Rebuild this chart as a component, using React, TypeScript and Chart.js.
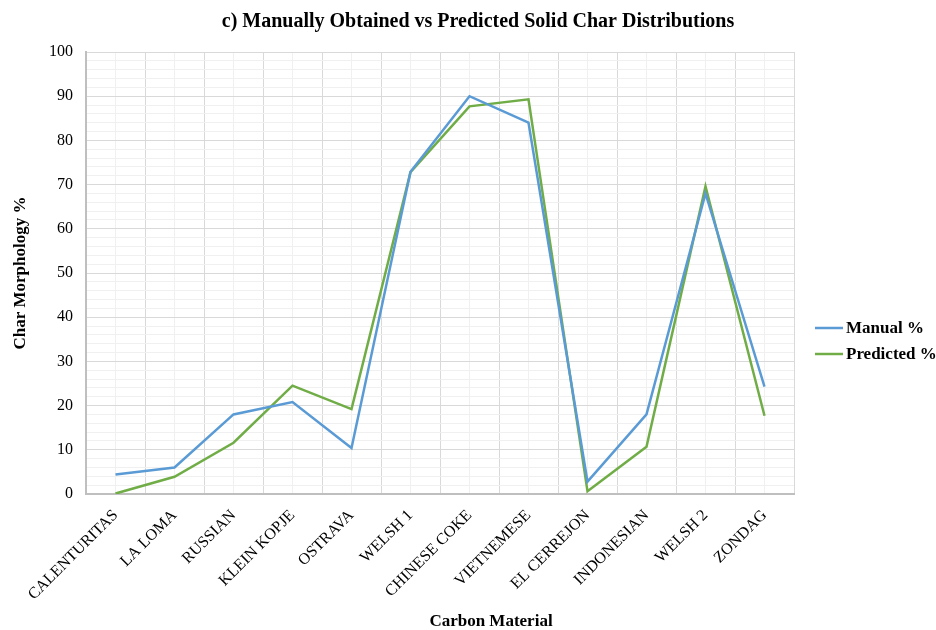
import React, { useEffect, useRef } from "react";
import { Chart, registerables } from "chart.js";

Chart.register(...registerables);

const categories: string[] = [
  "CALENTURITAS",
  "LA LOMA",
  "RUSSIAN",
  "KLEIN KOPJE",
  "OSTRAVA",
  "WELSH 1",
  "CHINESE COKE",
  "VIETNEMESE",
  "EL CERREJON",
  "INDONESIAN",
  "WELSH 2",
  "ZONDAG",
];

const manualValues: number[] = [4.4, 6.0, 18.0, 20.8, 10.4, 72.9, 90.0, 84.0, 2.8, 18.0, 68.0, 24.3];
const predictedValues: number[] = [0.1, 3.9, 11.6, 24.5, 19.2, 72.8, 87.7, 89.3, 0.6, 10.7, 69.6, 17.7];

const seriesLabels: string[] = ["Manual %", "Predicted %"];
const seriesColors: string[] = ["#5B9BD5", "#70AD47"];

const chartTitle = "c) Manually Obtained vs Predicted Solid Char Distributions";
const xTitle = "Carbon Material";
const yTitle = "Char Morphology %";

const FONT = "'Liberation Serif', 'Times New Roman', serif";

const overlayPlugin = {
  id: "overlayText",
  afterDraw(chart: any) {
    const ctx = chart.ctx;
    ctx.save();
    ctx.fillStyle = "#000";
    // Title
    ctx.font = `bold 20px ${FONT}`;
    ctx.textAlign = "center";
    ctx.textBaseline = "middle";
    ctx.fillText(chartTitle, 478, 22);
    // X axis title
    ctx.font = `bold 17px ${FONT}`;
    ctx.fillText(xTitle, 491, 622);
    // Legend
    const items = chart.data.datasets;
    const ys = [328, 354];
    items.forEach((ds: any, i: number) => {
      const y = ys[i];
      ctx.strokeStyle = ds.borderColor;
      ctx.lineWidth = 2.5;
      ctx.beginPath();
      ctx.moveTo(815, y);
      ctx.lineTo(843, y);
      ctx.stroke();
      ctx.fillStyle = "#000";
      ctx.textAlign = "left";
      ctx.textBaseline = "middle";
      ctx.font = `bold 17px ${FONT}`;
      ctx.fillText(ds.label, 846, y + 1);
    });
    ctx.restore();
  },
};

export default function App() {
  const canvasRef = useRef<HTMLCanvasElement | null>(null);

  useEffect(() => {
    if (!canvasRef.current) return;
    const chart = new Chart(canvasRef.current, {
      type: "line",
      data: {
        labels: categories,
        datasets: [
          {
            label: seriesLabels[0],
            data: manualValues,
            borderColor: seriesColors[0],
            backgroundColor: seriesColors[0],
            borderWidth: 2.5,
            pointRadius: 0,
            tension: 0,
          },
          {
            label: seriesLabels[1],
            data: predictedValues,
            borderColor: seriesColors[1],
            backgroundColor: seriesColors[1],
            borderWidth: 2.5,
            pointRadius: 0,
            tension: 0,
          },
        ],
      },
      options: {
        responsive: false,
        animation: false,
        layout: { padding: { left: 8, right: 142, top: 52, bottom: 0 } },
        plugins: {
          legend: { display: false },
          title: { display: false },
          tooltip: { enabled: false },
        },
        scales: {
          x: {
            type: "category",
            offset: true,
            grid: {
              offset: true,
              color: "#D9D9D9",
              lineWidth: 1,
              drawTicks: false,
            },
            border: { color: "#BFBFBF", width: 2 },
            ticks: {
              autoSkip: false,
              maxRotation: 45,
              minRotation: 45,
              padding: 12,
              color: "#000",
              font: { family: FONT, size: 16 },
            },
            afterFit: (scale: any) => {
              scale.height = 136;
            },
          },
          x2: {
            type: "category",
            labels: categories,
            position: "top",
            offset: true,
            grid: {
              offset: false,
              color: "#F0F0F0",
              lineWidth: 1,
              drawTicks: false,
            },
            border: { display: false },
            ticks: { display: false },
          },
          y: {
            min: 0,
            max: 100,
            grid: {
              color: (c: any) => (c.tick && c.tick.value % 10 === 0 ? "#D9D9D9" : "#F0F0F0"),
              lineWidth: 1,
              drawTicks: false,
            },
            border: { color: "#BFBFBF", width: 2 },
            ticks: {
              stepSize: 2,
              autoSkip: false,
              padding: 13,
              color: "#000",
              font: { family: FONT, size: 16 },
              callback: (v: any) => (Number(v) % 10 === 0 ? String(v) : ""),
            },
            title: {
              display: true,
              text: yTitle,
              color: "#000",
              font: { family: FONT, size: 17, weight: "bold" },
              padding: { top: 2, bottom: 4 },
            },
            afterFit: (scale: any) => {
              scale.width = 78;
            },
          },
        },
      } as any,
      plugins: [overlayPlugin],
    });
    return () => chart.destroy();
  }, []);

  return (
    <div style={{ position: "absolute", left: 0, top: 0, width: 936, height: 630, background: "#fff" }}>
      <canvas ref={canvasRef} width={936} height={630} style={{ display: "block" }} />
    </div>
  );
}
